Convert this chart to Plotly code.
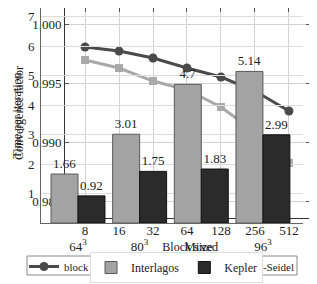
import plotly.graph_objects as go

# ---- data ----
block_sizes = [8, 16, 32, 64, 128, 256, 512]
block_labels = ["8", "16", "32", "64", "128", "256", "512"]
block_jacobi = [0.99805, 0.99771, 0.99712, 0.99627, 0.99551, 0.99432, 0.99263]
gauss_seidel = [0.99695, 0.99627, 0.99517, 0.99441, 0.99297, 0.99085, 0.98822]

grids = ["64³", "80³", "Mixed", "96³"]
grid_labels = ["64<sup>3</sup>", "80<sup>3</sup>", "Mixed", "96<sup>3</sup>"]
interlagos = [1.66, 3.01, 4.70, 5.14]
kepler = [0.92, 1.75, 1.83, 2.99]

conv_ticks = [0.985, 0.990, 0.995, 1.000]
time_ticks = [1, 2, 3, 4, 5, 6, 7]

# the page puts the figure 8 px in from the window's top-left corner
OFF = 8
W, H = 317 - OFF, 284 - OFF
FONT = "Liberation Serif"


def fx(p):
    return min(1.0, max(0.0, (p - OFF) / W))


def fy(p):
    return min(1.0, max(0.0, 1 - (p - OFF) / H))


fig = go.Figure()

# line chart (drawn first, underneath)
fig.add_trace(go.Scatter(
    x=block_sizes, y=block_jacobi, name="block Jacobi", mode="lines+markers",
    line=dict(color="#4a4a4a", width=3), marker=dict(symbol="circle", size=9, color="#4a4a4a"),
    xaxis="x", yaxis="y", legend="legend"))
fig.add_trace(go.Scatter(
    x=block_sizes, y=gauss_seidel, name="Gauss-Seidel", mode="lines+markers",
    line=dict(color="#a9a9a9", width=3), marker=dict(symbol="square", size=8, color="#a9a9a9"),
    xaxis="x", yaxis="y", legend="legend2"))

# bar chart (on top)
fig.add_trace(go.Bar(
    x=grids, y=interlagos, name="Interlagos",
    marker=dict(color="#a3a3a3", line=dict(color="#5a5a5a", width=1)),
    text=[f"{v:g}" for v in interlagos], textposition="outside",
    textfont=dict(family=FONT, size=13, color="#222"), cliponaxis=False,
    xaxis="x2", yaxis="y2", legend="legend3"))
fig.add_trace(go.Bar(
    x=grids, y=kepler, name="Kepler",
    marker=dict(color="#2b2b2b", line=dict(color="#111111", width=1)),
    text=[f"{v:g}" for v in kepler], textposition="outside",
    textfont=dict(family=FONT, size=13, color="#222"), cliponaxis=False,
    xaxis="x2", yaxis="y2", legend="legend3"))

# outer frame of the line-chart legend
fig.add_shape(type="rect", xref="paper", yref="paper",
              x0=fx(27), x1=fx(297), y0=fy(275), y1=fy(256),
              fillcolor="white", line=dict(color="#888", width=1), layer="above")

fig.update_layout(
    template="none",
    width=W, height=H,
    margin=dict(l=0, r=0, t=0, b=0),
    paper_bgcolor="white", plot_bgcolor="rgba(0,0,0,0)",
    font=dict(family=FONT, size=13, color="#222"),
    barmode="group", bargap=0.125, bargroupgap=0,
    showlegend=True,
    xaxis=dict(
        domain=[fx(65), fx(310)], anchor="y", type="log",
        range=[0.7255, 2.896], tickvals=block_sizes, ticktext=block_labels,
        showgrid=True, gridcolor="#d2d2d2", gridwidth=1,
        showline=True, linecolor="#333", linewidth=1, mirror="ticks",
        ticks="inside", ticklen=4, tickcolor="#555", ticklabelstandoff=0,
        title=dict(text="Block size", standoff=6, font=dict(size=12)),
        zeroline=False, automargin=False),
    yaxis=dict(
        domain=[fy(218), fy(8)], anchor="x",
        range=[0.98356, 1.00136], tickvals=conv_ticks,
        ticktext=[f"{v:.3f}" for v in conv_ticks],
        showgrid=True, gridcolor="#d2d2d2", gridwidth=1,
        showline=True, linecolor="#333", linewidth=1, mirror="ticks",
        ticks="inside", ticklen=4, tickcolor="#555",
        title=dict(text="Convergence factor", standoff=5, font=dict(size=12)),
        zeroline=False, automargin=False),
    xaxis2=dict(
        domain=[fx(41), fx(303)], anchor="y2", type="category",
        range=[-0.6, 3.65], tickvals=grids, ticktext=grid_labels,
        showgrid=False, showline=True, linecolor="#666", linewidth=1,
        ticks="", ticklabelstandoff=11,
        zeroline=False, automargin=False),
    yaxis2=dict(
        domain=[fy(223), fy(8)], anchor="x2",
        range=[0, 7.29], tickvals=time_ticks,
        showgrid=True, gridcolor="#dddddd", gridwidth=1,
        showline=True, linecolor="#666", linewidth=1,
        ticks="", ticklabelstandoff=3,
        title=dict(text="Time per iteration", standoff=3, font=dict(size=12)),
        zeroline=False, automargin=False),
    legend=dict(
        x=fx(24), y=fy(252), xanchor="left", yanchor="top",
        orientation="h", bgcolor="rgba(0,0,0,0)", borderwidth=0,
        font=dict(family=FONT, size=11)),
    legend2=dict(
        x=fx(196), y=fy(252), xanchor="left", yanchor="top",
        orientation="h", bgcolor="rgba(0,0,0,0)", borderwidth=0,
        font=dict(family=FONT, size=11)),
    legend3=dict(
        x=fx(90), y=fy(252), xanchor="left", yanchor="top",
        orientation="h", bgcolor="white", bordercolor="#dddddd", borderwidth=1,
        font=dict(family=FONT, size=12)),
)

fig.write_html("out.html")
